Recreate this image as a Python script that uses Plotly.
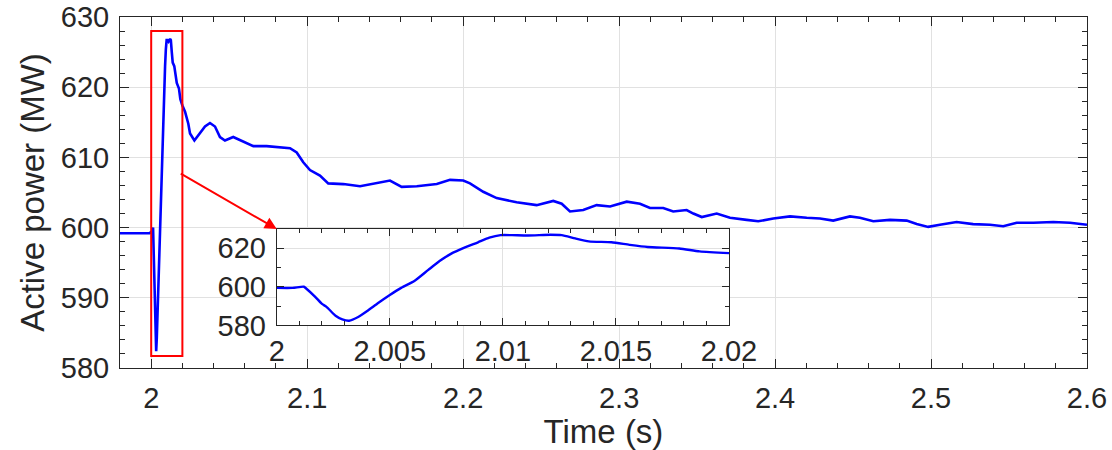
import plotly.graph_objects as go

# ---- data ----
time_pre = [1.98, 1.99, 1.999]
power_pre = [599.2, 599.2, 599.2]

time_zoom = [2.0000, 2.0007, 2.0012, 2.0013, 2.0017, 2.0020, 2.0022, 2.0026, 2.0029,
             2.0032, 2.0036, 2.0040, 2.0045, 2.0050, 2.0055, 2.0061, 2.0067, 2.0072,
             2.0077, 2.0083, 2.0089, 2.0094, 2.0099, 2.0104, 2.0111, 2.0121, 2.0126,
             2.0132, 2.0138, 2.0148, 2.0156, 2.0164, 2.0178, 2.0187, 2.0200]
power_zoom = [599.4, 599.4, 600.0, 599.1, 594.8, 591.1, 589.6, 585.0, 583.1,
              582.4, 584.3, 587.4, 591.7, 595.7, 599.4, 603.1, 608.7, 613.3,
              617.0, 620.2, 623.0, 625.4, 626.7, 626.7, 626.5, 626.9, 626.7,
              625.0, 623.5, 623.0, 621.7, 620.6, 619.8, 618.3, 617.4]

time_post = [2.0217, 2.0238, 2.0249, 2.0277, 2.0302, 2.0345, 2.0377, 2.0409, 2.0441,
             2.0473, 2.0526, 2.0590, 2.0655, 2.0740, 2.0826, 2.0890, 2.0933, 2.0975,
             2.1018, 2.1082, 2.1135, 2.1232, 2.1339, 2.1446, 2.1531, 2.1606, 2.1703,
             2.1831, 2.1916, 2.2001, 2.2044, 2.2129, 2.2215, 2.2343, 2.2471, 2.2578,
             2.2632, 2.2685, 2.2770, 2.2856, 2.2942, 2.3049, 2.3134, 2.3198, 2.3283,
             2.3347, 2.3433, 2.3476, 2.3530, 2.3626, 2.3711, 2.3818, 2.3892, 2.3989,
             2.4096, 2.4203, 2.4288, 2.4373, 2.4480, 2.4544, 2.4630, 2.4737, 2.4844,
             2.4908, 2.4982, 2.5057, 2.5164, 2.5270, 2.5378, 2.5463, 2.5549, 2.5656,
             2.5784, 2.5891, 2.6000]
power_post = [616.5, 614.8, 613.4, 612.4, 613.2, 614.4, 614.9, 614.4, 612.9,
              612.4, 612.9, 612.2, 611.6, 611.6, 611.4, 611.3, 610.7, 609.3,
              608.2, 607.4, 606.3, 606.2, 605.9, 606.3, 606.7, 605.8, 605.9,
              606.2, 606.8, 606.7, 606.3, 605.1, 604.2, 603.6, 603.2, 603.8,
              603.4, 602.3, 602.5, 603.2, 603.0, 603.7, 603.4, 602.8, 602.8,
              602.3, 602.5, 602.0, 601.5, 602.0, 601.4, 601.1, 600.9, 601.3,
              601.6, 601.4, 601.3, 601.0, 601.6, 601.4, 600.9, 601.1, 601.0,
              600.5, 600.1, 600.4, 600.8, 600.5, 600.4, 600.2, 600.7, 600.7,
              600.8, 600.7, 600.4]

time_main = time_pre + time_zoom + time_post
power_main = power_pre + power_zoom + power_post

# highlighted window and arrow (data coordinates)
box_t = [2.0, 2.02]
box_p = [581.7, 628.0]
arrow_tail = [2.018, 607.8]
arrow_head = [2.0805, 599.8]

FONT = "Liberation Sans, Arial, sans-serif"
INK = "#262626"
GRID = "#e1e1e1"

fig = go.Figure()
fig.add_trace(go.Scatter(x=time_main, y=power_main, mode="lines",
                         line=dict(color="#0000ff", width=2.6),
                         xaxis="x", yaxis="y", showlegend=False))
fig.add_trace(go.Scatter(x=time_zoom, y=power_zoom, mode="lines",
                         line=dict(color="#0000ff", width=2.4, shape="spline", smoothing=0.6),
                         xaxis="x2", yaxis="y2", showlegend=False))

common = dict(ticks="inside", tickcolor=INK, showline=True, linecolor=INK, linewidth=1,
              mirror="ticks", showgrid=True, gridcolor=GRID, gridwidth=1, zeroline=False,
              automargin=False, ticklabeloverflow="allow",
              tickfont=dict(family=FONT, size=29, color=INK))

fig.update_layout(
    width=1112, height=450,
    margin=dict(l=120, r=25, t=17, b=82),
    paper_bgcolor="white", plot_bgcolor="white",
    font=dict(family=FONT, color=INK),
    xaxis=dict(domain=[0, 1], range=[1.98, 2.6], tick0=2, dtick=0.1, ticklen=9, ticklabelstandoff=4,
               minor=dict(tick0=2, dtick=0.02, ticks="inside", ticklen=5, tickcolor=INK, showgrid=False),
               title=dict(text="Time (s)", font=dict(family=FONT, size=33, color=INK), standoff=1),
               anchor="y", **common),
    yaxis=dict(domain=[0, 1], range=[580, 630], tick0=580, dtick=10, ticklen=9, ticklabelstandoff=4,
               minor=dict(tick0=580, dtick=2, ticks="inside", ticklen=5, tickcolor=INK, showgrid=False),
               title=dict(text="Active power (MW)", font=dict(family=FONT, size=33, color=INK), standoff=6),
               anchor="x", **common),
    xaxis2=dict(domain=[0.1621, 0.6298], range=[2.0, 2.02], tick0=2, dtick=0.005, ticklen=7,
                minor=dict(tick0=2, dtick=0.001, ticks="inside", ticklen=4, tickcolor=INK, showgrid=False),
                anchor="y2", **common),
    yaxis2=dict(domain=[0.1215, 0.3966], range=[580, 630], tick0=580, dtick=20, ticklen=7,
                ticklabelstandoff=4,
                minor=dict(tick0=580, dtick=10, ticks="inside", ticklen=4, tickcolor=INK, showgrid=False),
                anchor="x2", **common),
    shapes=[
        # white backing for the inset (drawn in the inset subplot's lower layer)
        dict(type="rect", xref="x2", yref="y2", x0=2.0, x1=2.02, y0=580, y1=630,
             fillcolor="white", line=dict(width=0), layer="below"),
        dict(type="rect", xref="x", yref="y", x0=box_t[0], x1=box_t[1], y0=box_p[0], y1=box_p[1],
             line=dict(color="#ff0000", width=2), fillcolor="rgba(0,0,0,0)", layer="above"),
    ],
    annotations=[
        dict(x=arrow_head[0], y=arrow_head[1], xref="x", yref="y",
             ax=arrow_tail[0], ay=arrow_tail[1], axref="x", ayref="y",
             text="", showarrow=True, arrowhead=2, arrowsize=1.2, arrowwidth=2,
             arrowcolor="#ff0000", standoff=0),
    ],
)

# remove the browser's default page margin so the figure fills the window exactly
fig.write_html("out.html",
               config={"displayModeBar": False},
               post_script="document.body.style.margin='0';document.body.style.overflow='hidden';")
